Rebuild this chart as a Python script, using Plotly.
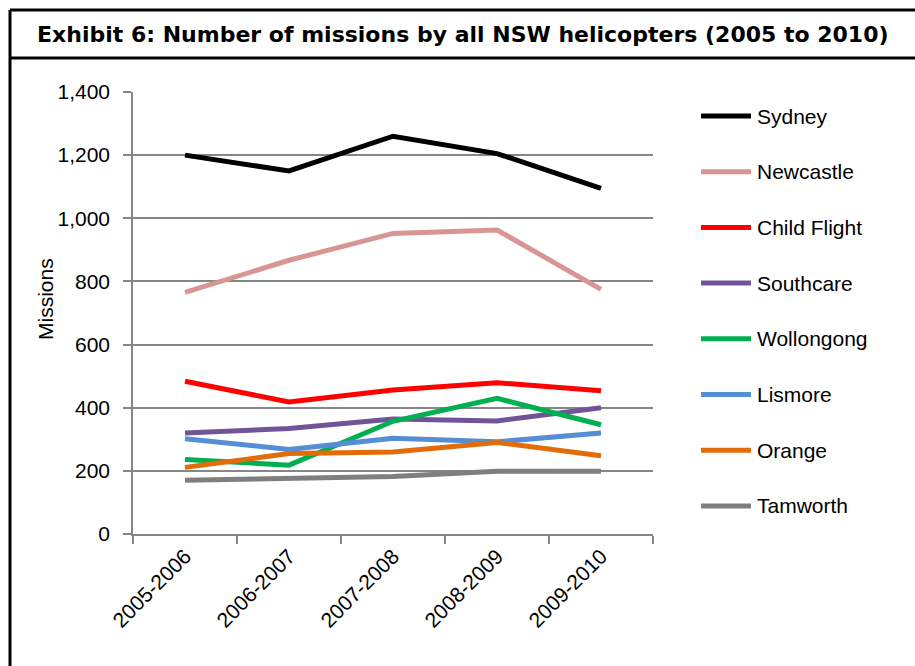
import plotly.graph_objects as go

categories = ["2005-2006", "2006-2007", "2007-2008", "2008-2009", "2009-2010"]
series_names = ["Sydney", "Newcastle", "Child Flight", "Southcare", "Wollongong", "Lismore", "Orange", "Tamworth"]
sydney = [1200, 1150, 1260, 1205, 1095]
newcastle = [765, 867, 952, 963, 775]
child_flight = [484, 418, 456, 479, 454]
southcare = [320, 334, 364, 358, 400]
wollongong = [236, 218, 357, 430, 346]
lismore = [302, 268, 303, 292, 320]
orange = [211, 255, 260, 290, 248]
tamworth = [170, 176, 182, 199, 199]
y_ticks = [0, 200, 400, 600, 800, 1000, 1200, 1400]
colors = ["#000000", "#D99594", "#FF0000", "#6F5597", "#00B050", "#558ED5", "#E36C09", "#7F7F7F"]

all_values = [sydney, newcastle, child_flight, southcare, wollongong, lismore, orange, tamworth]

W, H = 915, 666
L, R, T, B = 133, 653, 92, 534
FONT = "Liberation Sans, Arial, sans-serif"

def px(x):
    return (x - L) / (R - L)

def py(y):
    return (B - y) / (B - T)

fig = go.Figure()
for i, (name, vals, col) in enumerate(zip(series_names, all_values, colors)):
    fig.add_trace(go.Scatter(
        x=categories, y=vals, name=name, mode="lines",
        line=dict(color=col, width=5),
        showlegend=False,
    ))

fig.update_layout(
    width=W, height=H,
    margin=dict(l=L, r=W - R, t=T, b=H - B, pad=0),
    paper_bgcolor="white", plot_bgcolor="white",
    font=dict(family=FONT, size=21, color="#000000"),
    showlegend=False,
    xaxis=dict(
        type="category", range=[-0.5, 4.5],
        showline=True, linecolor="#868686", linewidth=1.5,
        ticks="outside", ticklen=8, tickcolor="#868686", tickwidth=1.5,
        tickson="boundaries", showgrid=False,
        tickangle=-45, tickfont=dict(size=21),
    ),
    yaxis=dict(
        range=[0, 1400], tickvals=y_ticks, tickformat=",",
        showline=True, linecolor="#868686", linewidth=1.5,
        ticks="outside", ticklen=8, tickcolor="#868686", tickwidth=1.5,
        showgrid=True, gridcolor="#868686", gridwidth=1.5,
        zeroline=False, tickfont=dict(size=21), ticklabelstandoff=9,
    ),
)

shapes = [
    dict(type="line", xref="paper", yref="paper", x0=px(10), x1=px(920), y0=py(10), y1=py(10),
         line=dict(color="black", width=3)),
    dict(type="line", xref="paper", yref="paper", x0=px(10), x1=px(920), y0=py(58), y1=py(58),
         line=dict(color="black", width=3)),
    dict(type="line", xref="paper", yref="paper", x0=px(10), x1=px(10), y0=py(10), y1=py(670),
         line=dict(color="black", width=3)),
]

# manual legend (long line samples as in the reference)
for i, (name, col) in enumerate(zip(series_names, colors)):
    yy = 116 + 55.7 * i
    shapes.append(dict(type="line", xref="paper", yref="paper",
                       x0=px(701), x1=px(751), y0=py(yy), y1=py(yy),
                       line=dict(color=col, width=5)))
    fig.add_annotation(text=name, xref="paper", yref="paper", x=px(755), y=py(yy),
                       xanchor="left", yanchor="middle", showarrow=False,
                       font=dict(family=FONT, size=21, color="black"))

fig.update_layout(shapes=shapes)

fig.add_annotation(
    text="Missions", xref="paper", yref="paper", x=px(45), y=py(299),
    xanchor="center", yanchor="middle", textangle=-90, showarrow=False,
    font=dict(family=FONT, size=21, color="black"),
)

fig.add_annotation(
    text="<b>Exhibit 6: Number of missions by all NSW helicopters (2005 to 2010)</b>",
    xref="paper", yref="paper", x=px(463), y=py(34), xanchor="center", yanchor="middle",
    showarrow=False, font=dict(family="DejaVu Sans, Verdana, sans-serif", size=22, color="black"),
)

fig.write_html("out.html")
